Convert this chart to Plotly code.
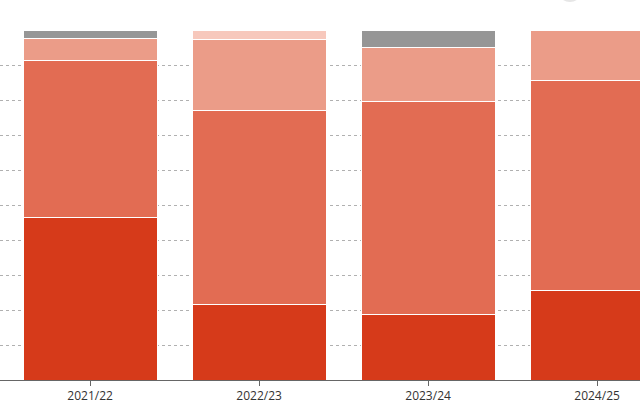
import plotly.graph_objects as go

seasons = ["2021/22", "2022/23", "2023/24", "2024/25"]

# shares per season, bottom segment first (percent)
seg_dark = [46.3, 21.7, 18.6, 25.7]
seg_mid = [44.9, 55.4, 60.9, 60.0]
seg_light = [6.3, 20.3, 15.4, 14.3]
seg_pale = [0.0, 2.6, 0.0, 0.0]
seg_grey = [2.5, 0.0, 5.1, 0.0]

series = [
    ("dark", seg_dark, "#d63a1a"),
    ("mid", seg_mid, "#e26c53"),
    ("light", seg_light, "#eb9c88"),
    ("pale", seg_pale, "#f7c8bc"),
    ("grey", seg_grey, "#969696"),
]

fig = go.Figure()
for name, vals, col in series:
    fig.add_trace(go.Bar(
        x=seasons, y=vals, name=name,
        marker=dict(color=col, line=dict(color="white", width=1)),
        hoverinfo="skip",
    ))

# faint round button peeking in at the top edge
fig.add_shape(type="circle", xref="paper", yref="paper",
              x0=0.872, x1=0.909, y0=1.083, y1=1.151,
              line=dict(color="#e6e6e6", width=2), layer="above")

fig.update_layout(
    barmode="stack",
    bargap=0.207,
    width=640, height=400,
    margin=dict(l=0, r=0, t=30, b=20),
    paper_bgcolor="white", plot_bgcolor="white",
    showlegend=False,
    font=dict(family="Open Sans", size=12, color="#333333"),
)
fig.update_xaxes(
    range=[-0.533, 3.254], automargin=False,
    showline=True, linecolor="#666666", linewidth=1,
    ticks="outside", ticklen=5, tickcolor="#666666",
    showgrid=False,
)
fig.update_yaxes(
    range=[0, 100], dtick=10,
    showticklabels=False, zeroline=False,
    showgrid=True, gridcolor="#b0b0b0", griddash="dot", gridwidth=1,
)

fig.write_html("out.html", config={"displayModeBar": False},
               post_script="document.body.style.margin='0';")
